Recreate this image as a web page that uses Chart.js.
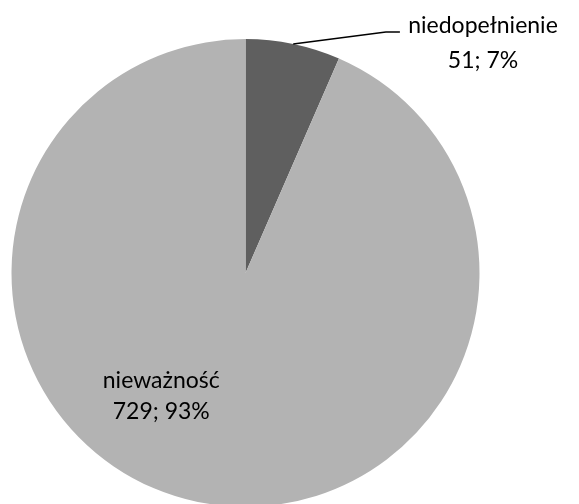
<!DOCTYPE html>
<html>
<head>
<meta charset="utf-8">
<script src="https://cdn.jsdelivr.net/npm/chart.js@4"></script>
<style>
  html, body { margin: 0; padding: 0; background: #fff; overflow: hidden; }
  #wrap { position: relative; width: 579px; height: 510px; }
</style>
</head>
<body>
<div id="wrap"><canvas id="pie"></canvas></div>
<script>
// Pie chart data
const categories = ['niedopełnienie', 'nieważność'];
const counts = [51, 729];
const percents = ['7%', '93%'];
const sliceColors = ['#5f5f5f', '#b3b3b3'];

const FONT = "Lato, 'Open Sans', sans-serif";

// Draws the Excel-style data labels (name + value; percent)
const pieLabels = {
  id: 'pieLabels',
  afterDatasetsDraw(chart) {
    const ctx = chart.ctx;
    const arcs = chart.getDatasetMeta(0).data;
    const cx = arcs[0].x, cy = arcs[0].y, r = arcs[0].outerRadius;

    ctx.save();
    ctx.font = '23px ' + FONT;
    ctx.fillStyle = '#000';
    ctx.textAlign = 'center';
    ctx.textBaseline = 'alphabetic';

    // small slice: leader line from arc midpoint
    const a0 = arcs[0];
    const mid = (a0.startAngle + a0.endAngle) / 2;
    const px = cx + Math.cos(mid) * r, py = cy + Math.sin(mid) * r;
    const lx = cx + 0.60 * r, ly = cy - 1.03 * r;
    ctx.strokeStyle = '#000';
    ctx.lineWidth = 1.5;
    ctx.beginPath();
    ctx.moveTo(px, py);
    ctx.lineTo(lx, ly);
    ctx.lineTo(lx + 14, ly);
    ctx.stroke();

    const tx = cx + 1.015 * r;
    ctx.fillText(categories[0], tx, cy - 1.025 * r);
    ctx.fillText(counts[0] + '; ' + percents[0], tx, cy - 0.875 * r);

    // big slice label inside
    const bx = cx - 0.36 * r;
    ctx.fillText(categories[1], bx, cy + 0.49 * r);
    ctx.fillText(counts[1] + '; ' + percents[1], bx, cy + 0.625 * r);
    ctx.restore();
  }
};

new Chart(document.getElementById('pie'), {
  type: 'pie',
  data: {
    labels: categories,
    datasets: [{
      data: counts,
      backgroundColor: sliceColors,
      borderWidth: 0
    }]
  },
  options: {
    responsive: true,
    maintainAspectRatio: false,
    animation: false,
    layout: {
      padding: { left: 11, right: 99, top: 39, bottom: 3 }
    },
    plugins: {
      legend: { display: false },
      tooltip: { enabled: false }
    }
  },
  plugins: [pieLabels]
});
</script>
</body>
</html>
